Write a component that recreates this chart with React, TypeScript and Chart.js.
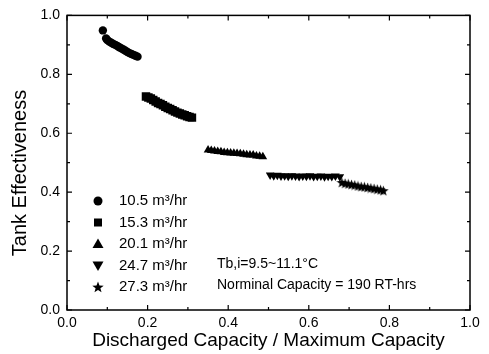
import React, { useEffect, useRef } from "react";
import { Chart, registerables } from "chart.js";
Chart.register(...registerables);

const xMajorTicks = [0, 0.2, 0.4, 0.6, 0.8, 1.0];
const xMinorTicks = [0.1, 0.3, 0.5, 0.7, 0.9];
const yMajorTicks = [0, 0.2, 0.4, 0.6, 0.8, 1.0];
const yMinorTicks = [0.1, 0.3, 0.5, 0.7, 0.9];

const seriesLabels = ["10.5 m³/hr", "15.3 m³/hr", "20.1 m³/hr", "24.7 m³/hr", "27.3 m³/hr"];
const notes = ["Tb,i=9.5~11.1°C", "Norminal Capacity = 190 RT-hrs"];
const xTitle = "Discharged Capacity / Maximum Capacity";
const yTitle = "Tank Effectiveness";

const s1x = [0.089, 0.097, 0.1, 0.105, 0.11, 0.115, 0.12, 0.125, 0.13, 0.135, 0.14, 0.145, 0.15, 0.155, 0.16, 0.165, 0.17, 0.175];
const s1y = [0.949, 0.922, 0.916, 0.911, 0.907, 0.903, 0.9, 0.896, 0.892, 0.888, 0.884, 0.88, 0.876, 0.872, 0.869, 0.866, 0.863, 0.86];

const s2x = [0.196, 0.202, 0.208, 0.214, 0.22, 0.226, 0.232, 0.238, 0.244, 0.25, 0.256, 0.262, 0.268, 0.274, 0.28, 0.286, 0.292, 0.298, 0.304, 0.31];
const s2y = [0.725, 0.721, 0.718, 0.713, 0.708, 0.703, 0.699, 0.695, 0.69, 0.686, 0.682, 0.678, 0.674, 0.67, 0.667, 0.664, 0.661, 0.658, 0.655, 0.653];

const s3x = [0.35, 0.358, 0.366, 0.374, 0.382, 0.39, 0.398, 0.406, 0.414, 0.422, 0.43, 0.438, 0.446, 0.454, 0.462, 0.47, 0.478, 0.486];
const s3y = [0.543, 0.541, 0.54, 0.538, 0.537, 0.535, 0.534, 0.533, 0.532, 0.531, 0.53, 0.529, 0.527, 0.526, 0.526, 0.523, 0.522, 0.52];

const s4x = [0.504, 0.513, 0.522, 0.531, 0.54, 0.549, 0.558, 0.567, 0.576, 0.585, 0.594, 0.603, 0.612, 0.621, 0.63, 0.639, 0.648, 0.657, 0.666, 0.677];
const s4y = [0.458, 0.456, 0.457, 0.455, 0.456, 0.454, 0.456, 0.455, 0.453, 0.455, 0.454, 0.456, 0.453, 0.454, 0.455, 0.452, 0.454, 0.453, 0.455, 0.452];

const s5x = [0.682, 0.69, 0.698, 0.706, 0.714, 0.722, 0.73, 0.738, 0.746, 0.754, 0.762, 0.77, 0.778, 0.785];
const s5y = [0.433, 0.43, 0.428, 0.426, 0.424, 0.421, 0.419, 0.418, 0.416, 0.414, 0.412, 0.41, 0.408, 0.405];

const FONT = "'Liberation Sans', Arial, sans-serif";

function makeStar(size: number): HTMLCanvasElement {
  const c = document.createElement("canvas");
  c.width = size;
  c.height = size;
  const ctx = c.getContext("2d")!;
  const cx = size / 2, cy = size / 2 + size * 0.04, R = size / 2, r = R * 0.42;
  ctx.beginPath();
  for (let i = 0; i < 10; i++) {
    const a = -Math.PI / 2 + (i * Math.PI) / 5;
    const rad = i % 2 === 0 ? R : r;
    const px = cx + rad * Math.cos(a), py = cy + rad * Math.sin(a);
    if (i === 0) ctx.moveTo(px, py); else ctx.lineTo(px, py);
  }
  ctx.closePath();
  ctx.fillStyle = "#000";
  ctx.fill();
  return c;
}

function toPts(xs: number[], ys: number[]) {
  return xs.map((x, i) => ({ x, y: ys[i] }));
}

export default function App() {
  const ref = useRef<HTMLCanvasElement | null>(null);
  useEffect(() => {
    if (!ref.current) return;
    const starImg = makeStar(11);
    const legendStar = makeStar(12);

    const framePlugin = {
      id: "frame",
      afterDraw(chart: any) {
        const { ctx, chartArea, scales } = chart;
        const { left, right, top, bottom } = chartArea;
        const xs = scales.x, ys = scales.y;
        ctx.save();
        ctx.strokeStyle = "#000";
        ctx.lineWidth = 1.5;
        ctx.strokeRect(left, top, right - left, bottom - top);
        ctx.lineWidth = 1.2;
        const tick = (vals: number[], len: number) => {
          vals.forEach((v) => {
            const px = xs.getPixelForValue(v);
            ctx.beginPath();
            ctx.moveTo(px, bottom); ctx.lineTo(px, bottom - len);
            ctx.moveTo(px, top); ctx.lineTo(px, top + len);
            ctx.stroke();
          });
        };
        const ytick = (vals: number[], len: number) => {
          vals.forEach((v) => {
            const py = ys.getPixelForValue(v);
            ctx.beginPath();
            ctx.moveTo(left, py); ctx.lineTo(left + len, py);
            ctx.moveTo(right, py); ctx.lineTo(right - len, py);
            ctx.stroke();
          });
        };
        tick(xMajorTicks, 5);
        tick(xMinorTicks, 3);
        ytick(yMajorTicks, 5);
        ytick(yMinorTicks, 3);

        // y-axis title
        ctx.fillStyle = "#000";
        ctx.save();
        ctx.translate(20, 173);
        ctx.rotate(-Math.PI / 2);
        ctx.font = `20px ${FONT}`;
        ctx.textAlign = "center";
        ctx.textBaseline = "middle";
        ctx.fillText(yTitle, 0, 0);
        ctx.restore();

        // legend
        const mx = 98, tx = 119, y0 = 201, dy = 21.5;
        ctx.font = `15px ${FONT}`;
        ctx.textBaseline = "middle";
        ctx.textAlign = "left";
        seriesLabels.forEach((lab, i) => {
          const cy = y0 + i * dy;
          ctx.beginPath();
          if (i === 0) {
            ctx.arc(mx, cy, 4.5, 0, Math.PI * 2);
            ctx.fill();
          } else if (i === 1) {
            ctx.fillRect(mx - 4, cy - 4, 8, 8);
          } else if (i === 2) {
            ctx.moveTo(mx, cy - 5.5); ctx.lineTo(mx + 5.5, cy + 4); ctx.lineTo(mx - 5.5, cy + 4);
            ctx.closePath(); ctx.fill();
          } else if (i === 3) {
            ctx.moveTo(mx, cy + 5.5); ctx.lineTo(mx + 5.5, cy - 4); ctx.lineTo(mx - 5.5, cy - 4);
            ctx.closePath(); ctx.fill();
          } else {
            ctx.drawImage(legendStar, mx - 6, cy - 6);
          }
          ctx.fillText(lab, tx, cy);
        });
        ctx.font = `14px ${FONT}`;
        notes.forEach((n, i) => {
          ctx.fillText(n, 217, 264 + i * 21.5);
        });
        ctx.restore();
      },
    };

    const chart = new Chart(ref.current, {
      type: "scatter",
      data: {
        datasets: [
          { label: seriesLabels[0], data: toPts(s1x, s1y), pointStyle: "circle", pointRadius: 4.2, backgroundColor: "#000", borderWidth: 0 },
          { label: seriesLabels[1], data: toPts(s2x, s2y), pointStyle: "rect", pointRadius: 6, backgroundColor: "#000", borderWidth: 0 },
          { label: seriesLabels[2], data: toPts(s3x, s3y), pointStyle: "triangle", pointRadius: 5, backgroundColor: "#000", borderWidth: 0 },
          { label: seriesLabels[3], data: toPts(s4x, s4y), pointStyle: "triangle", rotation: 180, pointRadius: 5, backgroundColor: "#000", borderWidth: 0 },
          { label: seriesLabels[4], data: toPts(s5x, s5y), pointStyle: starImg as any, pointRadius: 5, backgroundColor: "#000", borderWidth: 0 },
        ] as any,
      },
      options: {
        responsive: false,
        animation: false,
        layout: { padding: { top: 12, right: 19, left: 0, bottom: 0 } },
        plugins: { legend: { display: false }, tooltip: { enabled: false } },
        scales: {
          x: {
            type: "linear",
            min: 0,
            max: 1,
            afterFit: (s: any) => { s.height = 44; },
            afterBuildTicks: (s: any) => { s.ticks = xMajorTicks.map((v) => ({ value: v })); },
            ticks: { callback: (v: any) => Number(v).toFixed(1), color: "#000", font: { family: FONT, size: 14 }, padding: 5, maxRotation: 0, autoSkip: false },
            grid: { display: false, drawTicks: false },
            border: { display: false },
            title: { display: true, text: xTitle, color: "#000", font: { family: FONT, size: 19 }, padding: { top: 0, bottom: 1.5 } },
          },
          y: {
            type: "linear",
            min: 0,
            max: 1,
            afterFit: (s: any) => { s.width = 67; },
            afterBuildTicks: (s: any) => { s.ticks = yMajorTicks.map((v) => ({ value: v })); },
            ticks: { callback: (v: any) => Number(v).toFixed(1), color: "#000", font: { family: FONT, size: 14 }, padding: 7, autoSkip: false },
            grid: { display: false, drawTicks: false },
            border: { display: false },
            title: { display: false },
          },
        },
      } as any,
      plugins: [framePlugin],
    });
    return () => chart.destroy();
  }, []);
  return (
    <div style={{ position: "fixed", left: 0, top: 0, width: 489, height: 354, background: "#fff" }}>
      <canvas ref={ref} width={489} height={354} />
    </div>
  );
}
